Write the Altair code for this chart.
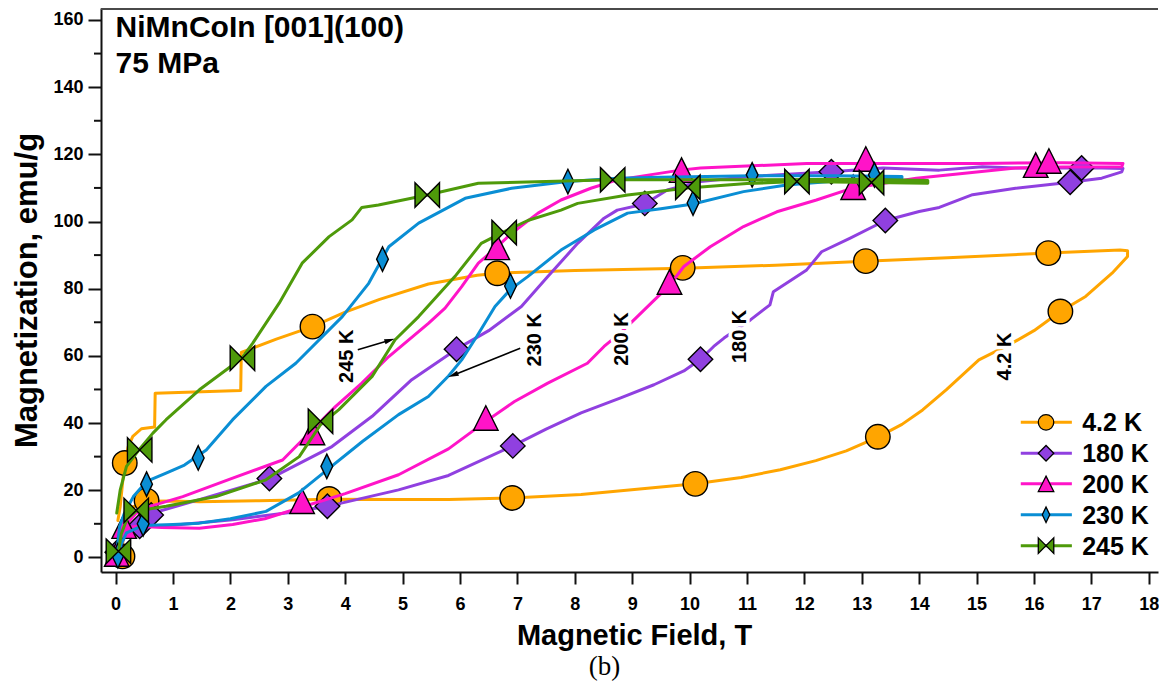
import math
import altair as alt
import pandas as pd

# ---------------- data ----------------
SERIES = ["4.2 K", "180 K", "200 K", "230 K", "245 K"]
COLORS = ["#FFA500", "#9040E0", "#FF14C8", "#0A8ED4", "#4E9A0A"]
SHAPES = ["circle", "diamond", "M0,-1L1,1L-1,1Z",
          "M0,-1L0.48,0L0,1L-0.48,0Z", "M-1,-1L1,1L1,-1L-1,1Z"]

# 4.2 K loop
T_42 = [0.10, 0.13, 0.19, 0.30, 0.54, 1.00, 1.46, 2.50, 3.72, 5.00, 5.80, 6.91, 8.11, 9.27, 10.10,
        10.90, 11.58, 12.20, 12.73, 13.28, 13.70, 14.06, 14.47, 15.04, 15.62, 16.00, 16.46, 16.90, 17.36, 17.63,
        17.63, 17.50, 16.25, 14.50, 13.05, 11.50, 9.90, 8.00, 6.65, 6.30, 5.45, 4.60, 4.00, 3.43, 2.80,
        2.19, 2.18, 1.50, 0.69, 0.68, 0.45, 0.30, 0.22, 0.16, 0.12, 0.08, 0.04]
M_42 = [0.3, 5.0, 12.2, 15.0, 16.7, 16.8, 16.6, 16.9, 17.3, 17.2, 17.2, 17.7, 18.7, 20.6, 21.9,
        23.8, 26.1, 28.8, 31.7, 35.8, 39.6, 43.9, 49.9, 58.8, 63.8, 67.5, 73.2, 77.7, 84.6, 89.6,
        91.3, 91.5, 90.6, 89.2, 88.2, 87.0, 86.1, 85.4, 84.6, 84.0, 81.4, 76.8, 73.0, 68.7, 65.0,
        61.0, 49.7, 49.3, 48.9, 38.8, 38.3, 36.0, 33.0, 28.0, 22.0, 15.0, 11.0]

# 180 K loop
T_180 = [0.03, 0.10, 0.20, 0.42, 1.00, 2.04, 3.00, 3.69, 4.93, 5.80, 6.92, 7.50, 8.11, 8.80, 9.38,
         9.90, 10.19, 10.42, 10.60, 10.83, 11.06, 11.40, 11.46, 12.04, 12.30, 12.79, 13.41, 14.00, 14.35, 14.93,
         15.68, 16.63, 17.18, 17.53, 17.55, 17.00, 16.83, 15.68, 15.10, 14.35, 13.37, 12.47, 11.06, 10.19, 9.61,
         9.22, 8.74, 8.51, 8.05, 7.53, 7.07, 6.50, 5.94, 5.16, 4.47, 3.77, 2.68, 1.46, 0.65, 0.30, 0.12, 0.05]
M_180 = [0.5, 4.0, 7.5, 9.2, 9.6, 11.2, 13.3, 15.2, 20.1, 24.4, 33.2, 38.2, 43.0, 47.5, 51.4,
         55.5, 59.0, 62.8, 65.3, 68.0, 70.7, 75.2, 79.1, 85.6, 91.0, 95.0, 100.3, 103.0, 104.2, 108.0,
         109.9, 111.7, 112.9, 114.8, 115.8, 116.0, 115.9, 115.9, 116.3, 115.3, 115.9, 114.8, 113.4, 111.9, 109.4,
         105.2, 103.4, 101.0, 93.5, 83.6, 74.7, 67.5, 62.0, 52.9, 42.0, 33.0, 23.4, 17.2, 13.2, 10.0, 5.0, 1.0]

# 200 K loop
T_200 = [0.03, 0.08, 0.15, 0.40, 0.80, 1.46, 2.04, 2.60, 3.25, 4.00, 4.93, 5.80, 6.45, 6.95, 7.53,
         8.22, 8.51, 8.77, 9.00, 9.38, 9.65, 9.90, 10.36, 10.94, 11.52, 12.21, 12.85, 13.95, 15.68, 16.50,
         17.53, 17.55, 16.50, 15.04, 12.04, 10.19, 9.84, 8.74, 8.28, 7.76, 7.36, 6.90, 6.65, 6.32, 6.03,
         5.74, 5.45, 4.76, 4.29, 3.83, 3.43, 2.91, 2.04, 1.17, 0.60, 0.35, 0.20, 0.08]
M_200 = [0.5, 5.0, 8.8, 9.3, 8.9, 8.7, 9.8, 11.5, 15.0, 19.0, 24.6, 32.3, 40.5, 46.4, 51.9,
         57.8, 62.8, 66.5, 70.2, 76.5, 81.0, 86.6, 92.5, 98.5, 102.9, 106.4, 110.0, 112.9, 115.9, 116.2,
         116.3, 117.3, 117.5, 117.3, 117.3, 115.9, 115.3, 112.4, 109.9, 106.4, 102.5, 96.5, 92.5, 87.6, 80.6,
         74.2, 69.7, 59.8, 51.9, 44.9, 38.0, 29.0, 23.6, 18.1, 15.2, 13.0, 10.0, 4.0]

# 230 K loop
T_230 = [0.03, 0.10, 0.19, 0.48, 1.00, 1.46, 2.00, 2.62, 3.19, 3.68, 4.30, 4.93, 5.45, 5.80, 6.03,
         6.30, 6.61, 6.88, 7.18, 7.76, 8.34, 8.92, 9.50, 10.06, 10.94, 11.69, 12.50, 13.20, 13.70, 13.70,
         12.50, 11.09, 9.50, 8.74, 7.88, 6.90, 6.09, 5.28, 4.76, 4.41, 3.95, 3.14, 2.62, 2.04, 1.58,
         1.20, 0.88, 0.54, 0.31, 0.15, 0.07, 0.03]
M_230 = [0.0, 4.0, 7.3, 9.5, 9.8, 10.2, 11.5, 13.7, 19.2, 26.0, 34.5, 42.5, 47.9, 54.0, 58.8,
         66.0, 74.7, 79.8, 83.6, 91.5, 97.5, 102.5, 103.8, 105.2, 108.9, 110.9, 112.0, 112.6, 112.9, 113.4,
         113.6, 113.6, 113.2, 112.9, 111.9, 109.9, 106.9, 99.5, 92.5, 81.6, 71.7, 57.8, 50.9, 41.0, 32.0,
         27.5, 25.1, 22.6, 18.1, 13.0, 9.2, 3.0]

# 245 K loop
T_245 = [0.05, 0.10, 0.20, 0.36, 0.88, 1.75, 2.62, 3.20, 3.57, 3.89, 4.47, 4.87, 5.28, 5.91, 6.37,
         6.77, 7.18, 7.76, 8.05, 8.92, 9.97, 11.00, 11.87, 13.17, 14.15, 14.15, 13.00, 10.94, 8.66, 6.32,
         5.43, 4.58, 4.29, 4.12, 3.72, 3.25, 2.85, 2.39, 2.20, 1.46, 0.88, 0.65, 0.42, 0.19, 0.08, 0.02]
M_245 = [1.8, 7.0, 11.5, 13.8, 15.2, 18.1, 23.1, 30.0, 39.5, 44.0, 53.9, 64.8, 71.7, 83.6, 93.5,
         97.0, 100.3, 103.4, 105.4, 107.9, 110.0, 111.3, 111.9, 111.6, 111.4, 112.2, 112.6, 112.4, 112.4, 111.4,
         107.9, 104.9, 104.2, 100.5, 95.5, 87.6, 75.7, 63.8, 59.3, 49.9, 41.0, 37.0, 32.3, 27.1, 20.0, 13.2]

# marker positions
MT_42 = [0.12, 0.16, 0.54, 3.43, 3.72, 6.65, 6.91, 9.88, 10.10, 13.07, 13.28, 16.25, 16.46]
MM_42 = [0.3, 28.1, 16.9, 68.7, 17.4, 84.6, 17.7, 86.2, 21.9, 88.2, 35.9, 90.6, 73.2]
MT_180 = [0.03, 0.42, 0.62, 2.68, 3.69, 5.94, 6.92, 9.22, 10.19, 12.47, 13.41, 16.63, 16.83]
MM_180 = [1.5, 9.3, 12.6, 23.5, 15.2, 62.0, 33.2, 105.4, 59.0, 114.8, 100.3, 111.7, 115.9]
MT_200 = [0.02, 0.15, 3.25, 3.43, 6.45, 6.65, 9.65, 9.86, 12.85, 13.07, 16.03, 16.26]
MM_200 = [1.0, 9.3, 16.7, 37.2, 41.5, 92.3, 82.0, 115.3, 110.2, 118.6, 116.8, 118.0]
MT_230 = [0.04, 0.48, 0.54, 1.44, 3.68, 4.65, 6.88, 7.88, 10.06, 11.09, 13.22]
MM_230 = [0.5, 10.0, 21.8, 29.6, 27.1, 88.8, 80.8, 111.9, 105.5, 113.9, 113.9]
MT_245 = [0.05, 0.36, 0.42, 2.21, 3.57, 5.43, 6.77, 8.66, 9.97, 11.87, 13.17]
MM_245 = [1.8, 14.0, 32.0, 59.3, 40.5, 107.9, 96.7, 112.4, 110.2, 111.9, 111.6]

# in-plot labels
LAB_TEXT = ["245 K", "230 K", "200 K", "180 K", "4.2 K"]
LAB_T = [4.03, 7.30, 8.83, 10.88, 15.49]
LAB_M = [59.9, 64.8, 65.0, 65.8, 59.8]

# arrows (start -> tip)
ARR_T0 = [4.22, 7.05]
ARR_M0 = [61.8, 62.3]
ARR_T1 = [4.86, 5.80]
ARR_M1 = [65.1, 53.7]

TITLE_LINES = ["NiMnCoIn [001](100)", "75 MPa"]
TITLE_M = [154.9, 144.2]

LEG_M = [40.2, 31.0, 21.9, 12.7, 3.5]
LEG_T_LINE = [15.77, 16.66]
LEG_T_SYM = 16.21
LEG_T_TXT = 16.84

# ---------------- build tables ----------------
curves = [(SERIES[0], T_42, M_42), (SERIES[1], T_180, M_180), (SERIES[2], T_200, M_200),
          (SERIES[3], T_230, M_230), (SERIES[4], T_245, M_245)]
marks = [(SERIES[0], MT_42, MM_42), (SERIES[1], MT_180, MM_180), (SERIES[2], MT_200, MM_200),
         (SERIES[3], MT_230, MM_230), (SERIES[4], MT_245, MM_245)]

rows = []
for name, ts, ms in curves:
    assert len(ts) == len(ms), name
    for i, (t, m) in enumerate(zip(ts, ms)):
        rows.append({"series": name, "i": i, "T": t, "M": m})
lines_df = pd.DataFrame(rows)

rows = []
for name, ts, ms in marks:
    assert len(ts) == len(ms), name
    for t, m in zip(ts, ms):
        rows.append({"series": name, "T": t, "M": m})
marks_df = pd.DataFrame(rows)

lab_df = pd.DataFrame({"text": LAB_TEXT, "T": LAB_T, "M": LAB_M})
title_df = pd.DataFrame({"text": TITLE_LINES, "T": [0.0, 0.0], "M": TITLE_M})

# ---------------- geometry ----------------
LEFT, BOTTOM = 93, 112
W, H = 1057, 564
PX_T = 57.4
X_DOMAIN = [-0.254, -0.254 + W / PX_T]
Y_DOMAIN = [-4.35, 163.57]
PX_M = H / (Y_DOMAIN[1] - Y_DOMAIN[0])

# arrowhead placement / rotation
head_rows = []
for t0, m0, t1, m1 in zip(ARR_T0, ARR_M0, ARR_T1, ARR_M1):
    dx = (t1 - t0) * PX_T
    dy = -(m1 - m0) * PX_M
    L = math.hypot(dx, dy)
    ux, uy = dx / L, dy / L
    back = 5.0
    cx = t1 - ux * back / PX_T
    cy = m1 + uy * back / PX_M
    ang = math.degrees(math.atan2(dx, -dy)) % 360
    head_rows.append({"T": cx, "M": cy, "ang": ang, "T0": t0, "M0": m0})
head_df = pd.DataFrame(head_rows)

leg_df = pd.DataFrame({"series": SERIES, "M": LEG_M,
                       "T1": [LEG_T_LINE[0]] * 5, "T2": [LEG_T_LINE[1]] * 5,
                       "Tm": [LEG_T_SYM] * 5, "Tt": [LEG_T_TXT] * 5})
minor_df = pd.DataFrame({"M": list(range(10, 160, 20))})

# ---------------- scales / axes ----------------
FONT = "Liberation Sans"
xs = alt.Scale(domain=X_DOMAIN, nice=False, zero=False)
ys = alt.Scale(domain=Y_DOMAIN, nice=False, zero=False)
cs = alt.Scale(domain=SERIES, range=COLORS)
ss = alt.Scale(domain=SERIES, range=SHAPES)

x_axis = alt.Axis(values=list(range(19)), title="Magnetic Field, T", grid=False,
                  tickSize=12, tickWidth=2, tickColor="#111", domainColor="#111", domainWidth=2,
                  labelFont=FONT, labelFontSize=18, labelFontWeight="bold", labelColor="black",
                  labelPadding=11, labelFlush=False, labelOverlap=False,
                  titleFont=FONT, titleFontSize=29, titleFontWeight="bold", titleColor="black",
                  titlePadding=8, titleX=533)
y_axis = alt.Axis(values=list(range(0, 161, 20)), title="Magnetization, emu/g", grid=False,
                  tickSize=13, tickWidth=2, tickColor="#111", domainColor="#111", domainWidth=2,
                  labelFont=FONT, labelFontSize=18, labelFontWeight="bold", labelColor="black",
                  labelPadding=5, labelFlush=False, labelOverlap=False,
                  titleFont=FONT, titleFontSize=31, titleFontWeight="bold", titleColor="black",
                  titlePadding=9)


def X(f):
    return alt.X(f"{f}:Q", scale=xs, axis=x_axis)


def Y(f):
    return alt.Y(f"{f}:Q", scale=ys, axis=y_axis)


COLOR = alt.Color("series:N", scale=cs, legend=None)
SHAPE = alt.Shape("series:N", scale=ss, legend=None)

layers = []
for name in SERIES:
    layers.append(
        alt.Chart(lines_df).transform_filter(alt.datum.series == name)
        .mark_line(strokeWidth=3, strokeJoin="round", strokeCap="round")
        .encode(x=X("T"), y=Y("M"), color=COLOR, order=alt.Order("i:Q"))
    )
    layers.append(
        alt.Chart(marks_df).transform_filter(alt.datum.series == name)
        .mark_point(filled=True, opacity=1, stroke="black", strokeWidth=1.4, size=600)
        .encode(x=X("T"), y=Y("M"), color=COLOR, shape=SHAPE)
    )

# curve labels with white halo
layers.append(
    alt.Chart(lab_df).mark_text(angle=270, font=FONT, fontSize=20, fontWeight="bold",
                                color="white", stroke="white", strokeWidth=7, strokeJoin="round")
    .encode(x=X("T"), y=Y("M"), text="text:N")
)
layers.append(
    alt.Chart(lab_df).mark_text(angle=270, font=FONT, fontSize=20, fontWeight="bold", color="black")
    .encode(x=X("T"), y=Y("M"), text="text:N")
)

# arrows
layers.append(
    alt.Chart(head_df).mark_rule(color="black", strokeWidth=1.6)
    .encode(x=X("T0"), y=Y("M0"), x2="T", y2="M")
)
layers.append(
    alt.Chart(head_df).mark_point(shape="M0,-1L0.5,1L-0.5,1Z", filled=True, color="black",
                                  opacity=1, size=110)
    .encode(x=X("T"), y=Y("M"), angle=alt.Angle("ang:Q", scale=None))
)

# title inside plot
layers.append(
    alt.Chart(title_df).mark_text(align="left", baseline="alphabetic", font=FONT, fontSize=30,
                                  fontWeight="bold", color="black")
    .encode(x=X("T"), y=Y("M"), text="text:N")
)

# legend (lower right)
layers.append(
    alt.Chart(leg_df).mark_rule(strokeWidth=3)
    .encode(x=X("T1"), x2="T2", y=Y("M"), color=COLOR)
)
layers.append(
    alt.Chart(leg_df).mark_point(filled=True, opacity=1, stroke="black", strokeWidth=1.3, size=240)
    .encode(x=X("Tm"), y=Y("M"), color=COLOR, shape=SHAPE)
)
layers.append(
    alt.Chart(leg_df).mark_text(align="left", baseline="middle", font=FONT, fontSize=25,
                                fontWeight="bold", color="black", dy=1)
    .encode(x=X("Tt"), y=Y("M"), text="series:N")
)

# minor y ticks and top frame line
layers.append(
    alt.Chart(minor_df).mark_rule(color="#111", strokeWidth=2)
    .encode(y=Y("M"), x=alt.value(-7), x2=alt.value(0))
)
layers.append(
    alt.Chart(minor_df).mark_rule(color="#4a4a4a", strokeWidth=2)
    .encode(y=alt.value(1), x=alt.value(0), x2=alt.value(W))
)

chart = (
    alt.layer(*layers)
    .properties(width=W, height=H,
                autosize=alt.AutoSizeParams(type="none"),
                padding={"left": LEFT, "top": 0, "right": 1, "bottom": BOTTOM},
                title=alt.TitleParams("(b)", orient="bottom", anchor="middle", font="Liberation Serif",
                                      fontSize=27, fontWeight="normal", color="black", dx=-25, offset=4))
    .configure_view(stroke=None)
)

chart.save("out.html", embed_options={"renderer": "svg", "actions": False})
